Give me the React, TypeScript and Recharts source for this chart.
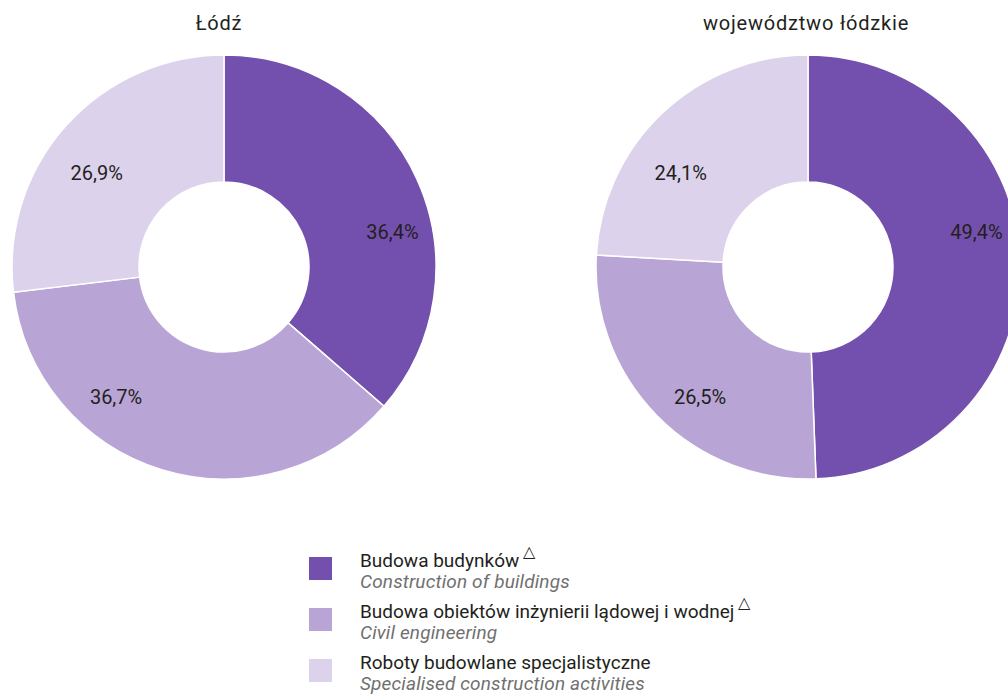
import React from "react";
import { PieChart, Pie, Cell } from "recharts";

const categoriesPl = [
  "Budowa budynków",
  "Budowa obiektów inżynierii lądowej i wodnej",
  "Roboty budowlane specjalistyczne",
];
const categoriesEn = [
  "Construction of buildings",
  "Civil engineering",
  "Specialised construction activities",
];
const marks = [true, true, false];
const lodzValues = [36.4, 36.7, 26.9];
const voivValues = [49.4, 26.5, 24.1];
const chartTitles = ["Łódź", "województwo łódzkie"];

const COLORS = ["#7450AE", "#B9A5D5", "#DCD2EB"];
const FONT = "Roboto, 'Noto Sans', sans-serif";

// label placement per category (clockwise from 12 o'clock, degrees; radius px)
const LABEL_LAYOUT = [
  { angle: 78.3, r: 172 },
  { angle: 219.7, r: 169 },
  { angle: 306.3, r: 158 },
];

const fmt = (v: number) => v.toFixed(1).replace(".", ",") + "%";

const renderLabel = (props: any) => {
  const { cx, cy, index, value } = props;
  const l = LABEL_LAYOUT[index];
  const rad = (l.angle * Math.PI) / 180;
  const x = cx + l.r * Math.sin(rad);
  const y = cy - l.r * Math.cos(rad);
  return (
    <text
      x={x}
      y={y}
      textAnchor="middle"
      dominantBaseline="central"
      fill="#231F20"
      fontSize={20}
      fontFamily={FONT}
    >
      {fmt(value)}
    </text>
  );
};

const toData = (vals: number[]) =>
  vals.map((v, i) => ({ name: categoriesPl[i], value: v }));

export default function App() {
  const pies = [
    { data: toData(lodzValues), cx: 224 },
    { data: toData(voivValues), cx: 808 },
  ];
  return (
    <div
      style={{
        position: "absolute",
        left: 0,
        top: 0,
        width: 1008,
        height: 696,
        overflow: "hidden",
        background: "#fff",
        fontFamily: FONT,
      }}
    >
      <div style={{ position: "absolute", left: 0, top: 0 }}>
        <PieChart width={1008} height={696} margin={{ top: 0, right: 0, bottom: 0, left: 0 }}>
          {pies.map((p, k) => (
            <Pie
              key={k}
              data={p.data}
              dataKey="value"
              cx={p.cx}
              cy={267}
              innerRadius={85}
              outerRadius={212}
              startAngle={90}
              endAngle={-270}
              stroke="#ffffff"
              strokeWidth={1.5}
              label={renderLabel}
              labelLine={false}
              isAnimationActive={false}
            >
              {p.data.map((_, i) => (
                <Cell key={i} fill={COLORS[i]} />
              ))}
            </Pie>
          ))}
        </PieChart>
      </div>
      {chartTitles.map((t, k) => (
        <div
          key={t}
          style={{
            position: "absolute",
            top: 10,
            left: [219, 806][k] - 200,
            width: 400,
            textAlign: "center",
            fontSize: 20,
            letterSpacing: 0.8,
            color: "#231F20",
            lineHeight: "26px",
          }}
        >
          {t}
        </div>
      ))}
      <div style={{ position: "absolute", left: 309, top: 550 }}>
        {categoriesPl.map((c, i) => (
          <div key={c} style={{ display: "flex", alignItems: "flex-start", height: 51 }}>
            <div
              style={{
                width: 23,
                height: 23,
                background: COLORS[i],
                marginTop: 7,
                marginRight: 28,
                flex: "none",
              }}
            />
            <div style={{ lineHeight: "21px", fontSize: 19 }}>
              <div style={{ color: "#231F20", whiteSpace: "nowrap", height: 21 }}>
                {c}
                {marks[i] && (
                  <span style={{ fontSize: 16, position: "relative", top: -10, marginLeft: 4 }}>△</span>
                )}
              </div>
              <div
                style={{
                  color: "#707070",
                  fontStyle: "italic",
                  whiteSpace: "nowrap",
                  fontSize: 19,
                  letterSpacing: 0.15,
                  height: 21,
                }}
              >
                {categoriesEn[i]}
              </div>
            </div>
          </div>
        ))}
      </div>
    </div>
  );
}
